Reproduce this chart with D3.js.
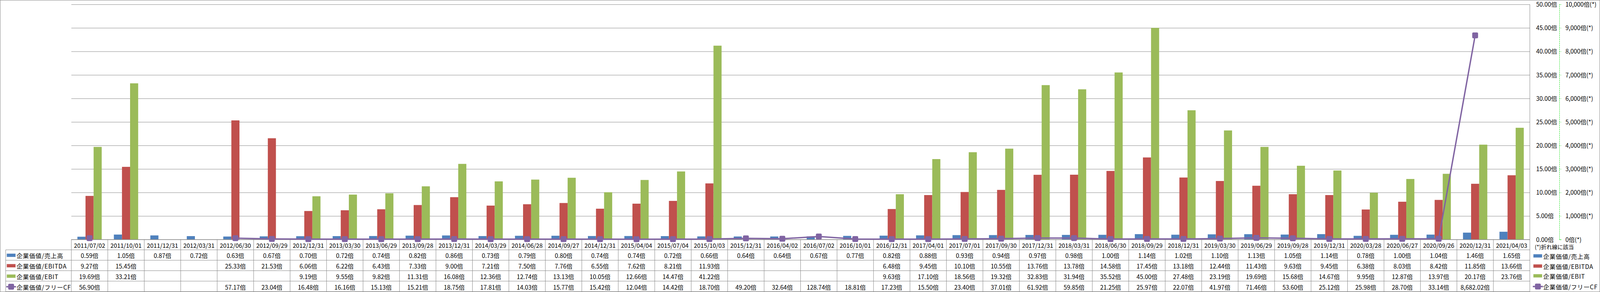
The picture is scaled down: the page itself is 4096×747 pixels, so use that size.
<!DOCTYPE html>
<html><head><meta charset="utf-8">
<script src="https://cdn.jsdelivr.net/npm/d3@7"></script>
<style>html,body{margin:0;padding:0;background:#fff;overflow:hidden}
text{font-family:"Noto Sans CJK JP","Noto Sans",sans-serif;fill:#000}</style>
</head><body>
<svg id="c" width="4096" height="747"></svg>
<script>
const dates = ["2011/07/02","2011/10/01","2011/12/31","2012/03/31","2012/06/30","2012/09/29","2012/12/31","2013/03/30","2013/06/29","2013/09/28","2013/12/31","2014/03/29","2014/06/28","2014/09/27","2014/12/31","2015/04/04","2015/07/04","2015/10/03","2015/12/31","2016/04/02","2016/07/02","2016/10/01","2016/12/31","2017/04/01","2017/07/01","2017/09/30","2017/12/31","2018/03/31","2018/06/30","2018/09/29","2018/12/31","2019/03/30","2019/06/29","2019/09/28","2019/12/31","2020/03/28","2020/06/27","2020/09/26","2020/12/31","2021/04/03"];
const salesRatio = [0.59,1.05,0.87,0.72,0.63,0.67,0.70,0.72,0.74,0.82,0.86,0.73,0.79,0.80,0.74,0.74,0.72,0.66,0.64,0.64,0.67,0.77,0.82,0.88,0.93,0.94,0.97,0.98,1.00,1.14,1.02,1.10,1.13,1.05,1.14,0.78,1.00,1.04,1.46,1.65];
const ebitdaRatio = [9.27,15.45,null,null,25.33,21.53,6.06,6.22,6.43,7.33,9.00,7.21,7.50,7.76,6.55,7.62,8.21,11.93,null,null,null,null,6.48,9.45,10.10,10.55,13.76,13.78,14.58,17.45,13.18,12.44,11.43,9.63,9.45,6.38,8.03,8.42,11.85,13.66];
const ebitRatio = [19.69,33.21,null,null,null,null,9.19,9.55,9.82,11.31,16.08,12.36,12.74,13.13,10.05,12.66,14.47,41.22,null,null,null,null,9.63,17.10,18.56,19.32,32.83,31.94,35.52,45.00,27.48,23.19,19.69,15.68,14.67,9.95,12.87,13.97,20.17,23.76];
const fcfRatio = [56.90,null,null,null,57.17,23.04,16.48,16.16,15.13,15.21,18.75,17.81,14.03,15.77,15.42,12.04,14.42,18.70,49.20,32.64,128.74,18.81,17.23,15.50,23.40,37.01,61.92,59.85,21.25,25.97,22.07,41.97,71.46,53.60,25.12,25.98,28.70,33.14,8682.02,null];
const seriesNames = ["企業価値/売上高","企業価値/EBITDA","企業価値/EBIT","企業価値/フリーCF"];
const seriesColors = ["#4F81BD","#C0504D","#9BBB59","#8064A2"];
const leftTicks = [0,5,10,15,20,25,30,35,40,45,50];
const rightTicks = [0,1000,2000,3000,4000,5000,6000,7000,8000,9000,10000];
const noteText = "(*)折れ線に該当";

const svg = d3.select("#c");
const P = {l:182.6, r:3916.4, t:11.2, b:612.7};
const FS = 15.3;
const LS = 0.8;
const gray = "#878787";

// outer border
svg.append("rect").attr("x",0.5).attr("y",0.5).attr("width",4095).attr("height",746)
  .attr("fill","#fff").attr("stroke",gray);

const x0 = d3.scaleBand().domain(dates).range([P.l, P.r]);
const bw = x0.bandwidth()/4.5;
const barKeys = [0,1,2];
const barData = [salesRatio, ebitdaRatio, ebitRatio];
const x1 = d3.scaleBand().domain(barKeys).range([0.75*bw, 3.75*bw]);
const y = d3.scaleLinear().domain([0,50]).range([P.b, P.t]);
const y2 = d3.scaleLinear().domain([0,10000]).range([P.b, P.t]);

// gridlines
const grid = svg.append("g").attr("transform",`translate(${P.l},0)`)
  .call(d3.axisLeft(y).tickValues(leftTicks).tickSize(-(P.r-P.l)).tickFormat(""));
grid.select(".domain").remove();
grid.selectAll("line").attr("stroke",gray).attr("stroke-width",1);
// plot right border
svg.append("line").attr("x1",P.r).attr("x2",P.r).attr("y1",P.t).attr("y2",P.b).attr("stroke",gray);

// bars
barKeys.forEach(k=>{
  svg.append("g").selectAll("rect")
    .data(dates.map((d,i)=>({d, v:barData[k][i]})).filter(e=>e.v!=null))
    .join("rect")
    .attr("x",e=>x0(e.d)+x1(k))
    .attr("width",x1.bandwidth())
    .attr("y",e=>y(e.v))
    .attr("height",e=>P.b-y(e.v))
    .attr("fill",seriesColors[k]);
});

// table
const tableTop = P.b, headerH = 26.4, rowH = 26.7;
const rowsY = [tableTop+headerH];
for(let i=1;i<=4;i++) rowsY.push(tableTop+headerH+rowH*i);
const tg = svg.append("g");
const tL = 14.6;
tg.append("line").attr("x1",P.l).attr("x2",P.r).attr("y1",tableTop).attr("y2",tableTop).attr("stroke",gray);
rowsY.forEach(ry=>tg.append("line").attr("x1",tL).attr("x2",P.r).attr("y1",ry).attr("y2",ry).attr("stroke",gray));
const bounds = dates.map(d=>x0(d)).concat([P.r]);
tg.selectAll("line.v").data(bounds).join("line").attr("class","v")
  .attr("x1",d=>d).attr("x2",d=>d).attr("y1",tableTop).attr("y2",rowsY[4]).attr("stroke",gray);
tg.append("line").attr("x1",tL).attr("x2",tL).attr("y1",rowsY[0]).attr("y2",rowsY[4]).attr("stroke",gray);

tg.selectAll("text.h").data(dates).join("text").attr("class","h")
  .attr("x",d=>x0(d)+x0.bandwidth()/2).attr("y",tableTop+headerH/2+1)
  .attr("text-anchor","middle").attr("dominant-baseline","central")
  .attr("font-size",FS).text(d=>d);

const fmtV = d3.format(",.2f");
const allData = [salesRatio, ebitdaRatio, ebitRatio, fcfRatio];
allData.forEach((arr,k)=>{
  const cy = rowsY[k]+rowH/2+1;
  tg.append("g").selectAll("text").data(dates.map((d,i)=>({d,v:arr[i]})).filter(e=>e.v!=null))
    .join("text")
    .attr("x",e=>x0(e.d)+x0.bandwidth()/2).attr("y",cy)
    .attr("text-anchor","middle").attr("dominant-baseline","central")
    .attr("font-size",FS).text(e=>fmtV(e.v)+"倍");
  if(k<3){
    tg.append("rect").attr("x",17.4).attr("y",cy-4.6).attr("width",22.3).attr("height",8.4).attr("fill",seriesColors[k]);
  } else {
    tg.append("line").attr("x1",16).attr("x2",41).attr("y1",cy).attr("y2",cy).attr("stroke",seriesColors[3]).attr("stroke-width",3.5);
    tg.append("rect").attr("x",28.5-7.5).attr("y",cy-7.5).attr("width",15).attr("height",15).attr("rx",3).attr("fill",seriesColors[3]);
  }
  tg.append("text").attr("x",42.5).attr("y",cy).attr("dominant-baseline","central")
    .attr("font-size",FS).attr("letter-spacing",LS).text(seriesNames[k]);
});

// FCF line (secondary axis)
const pts = dates.map((d,i)=>({d,v:fcfRatio[i]}));
const line = d3.line().defined(e=>e.v!=null).x(e=>x0(e.d)+x0.bandwidth()/2).y(e=>y2(e.v));
svg.append("path").attr("d",line(pts)).attr("fill","none").attr("stroke",seriesColors[3])
  .attr("stroke-width",3.5).attr("stroke-linejoin","round");
svg.append("g").selectAll("rect").data(pts.filter(e=>e.v!=null)).join("rect")
  .attr("x",e=>x0(e.d)+x0.bandwidth()/2-7.5).attr("y",e=>y2(e.v)-7.5)
  .attr("width",15).attr("height",15).attr("rx",3).attr("fill",seriesColors[3]);

// axes on right
const axX = 3991.9;
const fmtL = v=>d3.format(".2f")(v)+"倍";
const fmtR = v=>d3.format(",")(v)+"倍(*)";
const aL = svg.append("g").attr("transform",`translate(${axX},0)`)
  .call(d3.axisLeft(y).tickValues(leftTicks).tickSize(0).tickFormat(fmtL));
aL.select(".domain").remove();
aL.selectAll("text").attr("font-size",FS).attr("text-anchor","start").attr("x",3932.5-axX).attr("dy","0.35em");
const aR = svg.append("g").attr("transform",`translate(${axX},0)`)
  .call(d3.axisRight(y2).tickValues(rightTicks).tickSize(5).tickFormat(fmtR));
aR.select(".domain").attr("stroke","#00dd00").attr("stroke-dasharray","3,2").attr("stroke-width",1);
aR.selectAll("line").attr("stroke","#00dd00").attr("stroke-dasharray","2,2");
aR.selectAll("text").attr("font-size",FS).attr("x",4007.5-axX).attr("dy","0.35em");

// legend
svg.append("text").attr("x",3929).attr("y",631).attr("dominant-baseline","central")
  .attr("font-size",14).text(noteText);
const legY = [655,681,706,733];
seriesNames.forEach((n,k)=>{
  if(k<3){
    svg.append("rect").attr("x",3925.5).attr("y",legY[k]-4.6).attr("width",22.3).attr("height",8.4).attr("fill",seriesColors[k]);
  } else {
    svg.append("line").attr("x1",3924).attr("x2",3950).attr("y1",legY[k]).attr("y2",legY[k]).attr("stroke",seriesColors[3]).attr("stroke-width",3.5);
    svg.append("rect").attr("x",3937-7.5).attr("y",legY[k]-7.5).attr("width",15).attr("height",15).attr("rx",3).attr("fill",seriesColors[3]);
  }
  svg.append("text").attr("x",3950.6).attr("y",legY[k]).attr("dominant-baseline","central")
    .attr("font-size",FS).attr("letter-spacing",LS).text(n);
});
</script>
</body></html>
